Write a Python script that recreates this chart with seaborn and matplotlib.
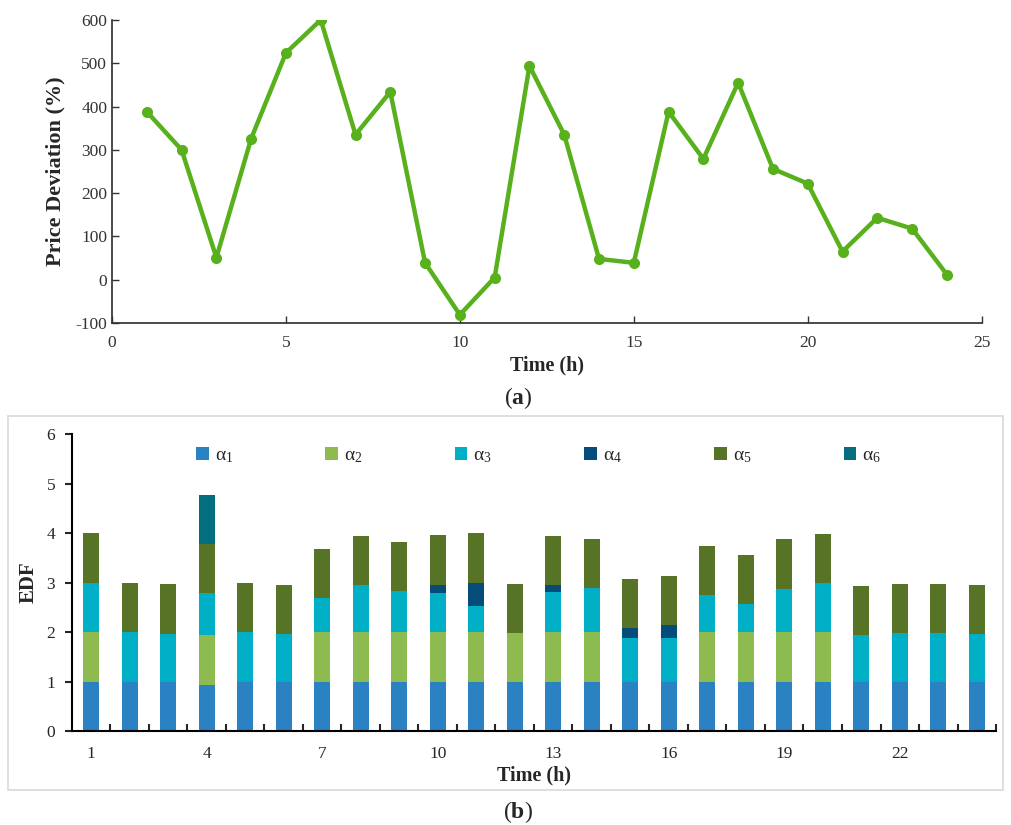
import numpy as np
import pandas as pd
import seaborn as sns
import matplotlib.pyplot as plt
from matplotlib.patches import Patch, Rectangle

# ---- data ----
hours = list(range(1, 25))
price_dev = [388, 300, 51, 326, 524, 600, 335, 434, 39, -81, 5, 494,
             335, 48, 39, 388, 279, 455, 256, 222, 65, 143, 118, 12]

alpha1 = [1.00, 1.00, 1.00, 0.94, 1.00, 1.00, 1.00, 1.00, 1.00, 1.00, 1.00, 1.00,
          1.00, 1.00, 1.00, 1.00, 1.00, 1.00, 1.00, 1.00, 1.00, 1.00, 1.00, 1.00]
alpha2 = [1.00, 0.00, 0.00, 0.99, 0.00, 0.00, 1.00, 1.00, 1.00, 1.00, 1.00, 0.98,
          1.00, 1.00, 0.00, 0.00, 1.00, 1.00, 1.00, 1.00, 0.00, 0.00, 0.00, 0.00]
alpha3 = [1.00, 1.00, 0.97, 0.85, 1.00, 0.96, 0.68, 0.95, 0.82, 0.78, 0.52, 0.00,
          0.81, 0.88, 0.87, 0.87, 0.74, 0.56, 0.87, 0.99, 0.94, 0.99, 0.99, 0.96]
alpha4 = [0.00, 0.00, 0.00, 0.00, 0.00, 0.00, 0.00, 0.00, 0.00, 0.18, 0.48, 0.00,
          0.14, 0.00, 0.21, 0.27, 0.00, 0.00, 0.00, 0.00, 0.00, 0.00, 0.00, 0.00]
alpha5 = [1.00, 1.00, 1.00, 0.99, 1.00, 1.00, 0.99, 0.99, 1.00, 1.00, 1.00, 0.99,
          1.00, 1.00, 0.99, 1.00, 0.99, 1.00, 1.00, 1.00, 0.99, 0.99, 0.99, 1.00]
alpha6 = [0.00, 0.00, 0.00, 0.99, 0.00, 0.00, 0.00, 0.00, 0.00, 0.00, 0.00, 0.00,
          0.00, 0.00, 0.00, 0.00, 0.00, 0.00, 0.00, 0.00, 0.00, 0.00, 0.00, 0.00]

series_names = ['α$_1$', 'α$_2$', 'α$_3$', 'α$_4$', 'α$_5$', 'α$_6$']
series_colors = ['#2A82C2', '#8DBB50', '#00AEC6', '#064C7A', '#577426', '#046E7E']
xtick_labels = ['1', '4', '7', '10', '13', '16', '19', '22']

# ---- style ----
sns.set_theme(style="ticks")
plt.rcParams['font.family'] = ['Liberation Serif', 'DejaVu Serif']
plt.rcParams['mathtext.fontset'] = 'custom'
plt.rcParams['mathtext.rm'] = 'Liberation Serif'
plt.rcParams['mathtext.it'] = 'Liberation Serif:italic'
plt.rcParams['mathtext.bf'] = 'Liberation Serif:bold'
plt.rcParams['axes.unicode_minus'] = False

fig = plt.figure(figsize=(10.12, 8.25), dpi=100)

# ---- panel (a) ----
ax1 = fig.add_axes([0.1107, 0.6085, 0.8593, 0.3673])
df_a = pd.DataFrame({"Time": hours, "Dev": price_dev})
sns.lineplot(data=df_a, x="Time", y="Dev", color="#58B01C", linewidth=3.2,
             marker="o", markersize=8, markeredgewidth=0, ax=ax1)
ax1.set_xlim(0, 25)
ax1.set_ylim(-100, 600)
ax1.set_xticks(range(0, 26, 5))
ax1.set_yticks(range(-100, 601, 100))
sns.despine(ax=ax1)
ax1.tick_params(direction="in", length=5, width=1, labelsize=12.5, colors="#333333")
ax1.tick_params(axis="x", pad=9)
for s in ax1.spines.values():
    s.set_color("#333333")
ax1.set_xlabel("Time (h)", fontsize=14.5, fontweight="bold", labelpad=3)
ax1.set_ylabel("Price Deviation (%)", fontsize=16, fontweight="bold", labelpad=7)
fig.text(0.512, 0.517, r"($\mathbf{a}$)", fontsize=17, ha="center", va="center")

# ---- panel (b) ----
fig.patches.append(Rectangle((0.0079, 0.0424), 0.983, 0.4534, transform=fig.transFigure,
                             fill=False, edgecolor="#d9d9d9", linewidth=1.2))
ax2 = fig.add_axes([0.0711, 0.1139, 0.9131, 0.3600])
segments = [alpha1, alpha2, alpha3, alpha4, alpha5, alpha6]
bottom = np.zeros(len(hours))
for seg, col in zip(segments, series_colors):
    sns.barplot(x=hours, y=seg, bottom=bottom, color=col, width=0.42,
                errorbar=None, linewidth=0, saturation=1, ax=ax2)
    bottom = bottom + np.array(seg)
ax2.set_xlim(-0.5, 23.5)
ax2.set_ylim(0, 6)
ax2.set_yticks(range(0, 7))
ax2.set_xticks(range(0, 24, 3))
ax2.set_xticklabels(xtick_labels)
ax2.set_xticks(np.arange(0.5, 24, 1), minor=True)
sns.despine(ax=ax2)
for side in ["left", "bottom"]:
    ax2.spines[side].set_linewidth(1.5)
    ax2.spines[side].set_color("black")
ax2.tick_params(axis="y", direction="out", length=5, width=1.5, labelsize=12.5, pad=7)
ax2.tick_params(axis="x", which="major", length=0, labelsize=12.5, pad=11)
ax2.tick_params(axis="x", which="minor", direction="in", length=5, width=1.5)
ax2.set_xlabel("Time (h)", fontsize=14.5, fontweight="bold", labelpad=2)
ax2.set_ylabel("EDF", fontsize=15, fontweight="bold", labelpad=6)

handles = [Patch(facecolor=c, edgecolor="none") for c in series_colors]
ax2.legend(handles, series_names, loc="center", bbox_to_anchor=(0.505, 0.925),
           ncol=6, frameon=False, fontsize=14, handlelength=0.65, handleheight=0.65,
           handletextpad=0.3, columnspacing=4.75)

fig.text(0.512, 0.016, r"($\mathbf{b}$)", fontsize=17, ha="center", va="center")

plt.savefig("out.png", dpi=100)
